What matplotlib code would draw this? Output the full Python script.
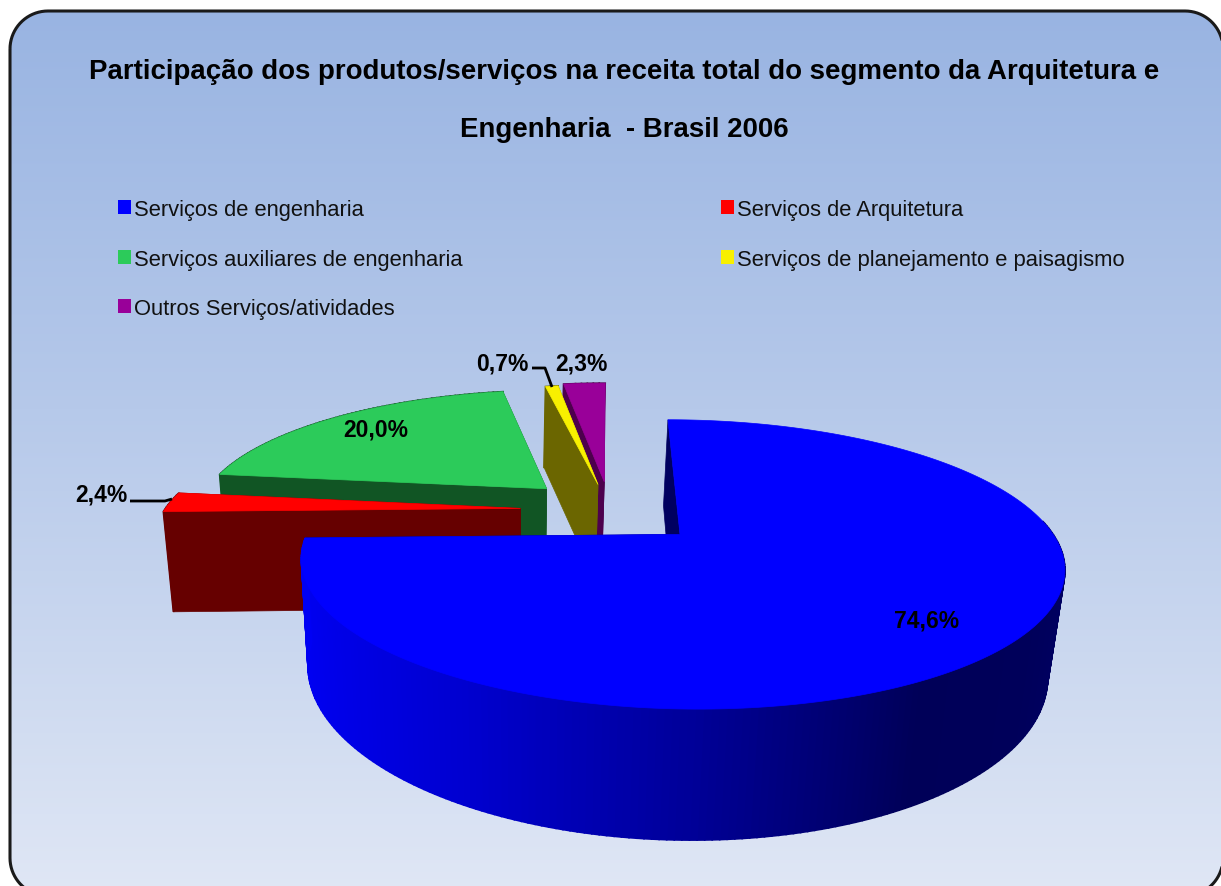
import numpy as np
import matplotlib
matplotlib.use("Agg")
import matplotlib.pyplot as plt
from matplotlib.patches import Polygon, Rectangle
from matplotlib.colors import to_rgb

#Data
names = ["Serviços de engenharia", "Serviços de Arquitetura", "Serviços auxiliares de engenharia",
         "Serviços de planejamento e paisagismo", "Outros Serviços/atividades"]
values = [74.6, 2.4, 20.0, 0.7, 2.3]
labels = ["74,6%", "2,4%", "20,0%", "0,7%", "2,3%"]
title_lines = ["Participação dos produtos/serviços na receita total do segmento da Arquitetura e",
               "Engenharia  - Brasil 2006"]

#Styles
top_colors = ["#0000ff", "#ff0000", "#2ccb5a", "#f8f000", "#990099"]
wall_colors = ["#000060", "#660000", "#115524", "#6b6600", "#4d004d"]
explode = [0.262, 0.25, 0.25, 0.21, 0.23]
radius = [1.0, 0.99, 0.975, 1.0, 1.0]

#Projection of the 3D pie into picture pixels
cx, cy = 610, 511
R, a, D = 359.5, 128.5, 100
k, m = 0.2, 0.03

def project(x, y, z):
    sy = 1 / (1 + k * y)
    s = 1 / (1 + k * y + m * z)
    return cx + R * x * s - 3 * z, cy + sy * (D * z - a * y)

fig = plt.figure(figsize=(12.21, 8.87), dpi=100)
ax = fig.add_axes([0, 0, 1, 1])

#Background panel with the gradient
def rounded_box(x0, y0, x1, y1, r):
    pts = []
    for px, py, start in [(x0 + r, y0 + r, 180), (x1 - r, y0 + r, 270), (x1 - r, y1 - r, 0), (x0 + r, y1 - r, 90)]:
        th = np.radians(np.linspace(start, start + 90, 20))
        pts += list(zip(px + r * np.cos(th), py + r * np.sin(th)))
    return pts

panel = Polygon(rounded_box(10, 12, 1223, 897, 38), closed=True, facecolor="none",
                edgecolor="#1a1a1a", linewidth=2.2, zorder=3)
ax.add_patch(panel)
stops = np.array([to_rgb("#99b4e2"), to_rgb("#b6c9ea"), to_rgb("#e0e7f5")])
t = np.linspace(0, 1, 400)
grad = np.stack([np.interp(t, [0, 0.45, 1], stops[:, i]) for i in range(3)], axis=1)[:, None, :]
im = ax.imshow(grad, extent=(10, 1223, 897, 12), aspect="auto", zorder=1)
im.set_clip_path(panel)
ax.set_xlim(0, 1221)
ax.set_ylim(887, 0)
ax.axis("off")

#Blue wall shading, by position across the pie
shade_x = [-1.0, -0.5, 0.0, 0.5, 0.8, 1.0]
shade_c = np.array([to_rgb(c) for c in ["#0000f4", "#0000d0", "#000098", "#000058", "#00005a", "#000062"]])

def shade(x):
    return tuple(np.interp(x, shade_x, shade_c[:, i]) for i in range(3))

#Slice angles, clockwise from 12 o'clock
edges = np.concatenate([[0], np.cumsum(values)]) / sum(values) * 2 * np.pi

def draw_slice(i):
    t1, t2 = edges[i], edges[i + 1]
    mid = (t1 + t2) / 2
    ox, oy = explode[i] * np.sin(mid), explode[i] * np.cos(mid)
    th = np.linspace(t1, t2, max(int((t2 - t1) * 60), 4))
    xs = ox + radius[i] * np.sin(th)
    ys = oy + radius[i] * np.cos(th)
    z = 10 + (4 - i if i else 9) * 2

    #radial faces
    for x, y in [(xs[0], ys[0]), (xs[-1], ys[-1])]:
        pts = [project(ox, oy, 0), project(x, y, 0), project(x, y, 1), project(ox, oy, 1)]
        ax.add_patch(Polygon(pts, facecolor=wall_colors[i], edgecolor=wall_colors[i], lw=0.5, zorder=z))
    #outer wall, front part only for the big slice
    for j in range(len(th) - 1):
        if i == 0 and np.cos(th[j]) > 0.1:
            continue
        c = shade(np.sin(th[j])) if i == 0 else wall_colors[i]
        pts = [project(xs[j], ys[j], 0), project(xs[j + 1], ys[j + 1], 0),
               project(xs[j + 1], ys[j + 1], 1), project(xs[j], ys[j], 1)]
        ax.add_patch(Polygon(pts, facecolor=c, edgecolor=c, lw=1.2, zorder=z))
    #top
    pts = [project(ox, oy, 0)] + [project(x, y, 0) for x, y in zip(xs, ys)]
    ax.add_patch(Polygon(pts, facecolor=top_colors[i], edgecolor=top_colors[i], lw=0.5, zorder=z + 1))

for i in range(len(values)):
    draw_slice(i)

#Title
for line, y in zip(title_lines, [72, 130]):
    ax.text(624, y, line, ha="center", va="center", fontsize=19.9, fontweight="bold",
            family="Liberation Sans", color="black", zorder=30)

#Legend
leg_x = [118, 721, 118, 721, 118]
leg_y = [208, 208, 258, 258, 307]
for name, c, x, y in zip(names, top_colors, leg_x, leg_y):
    ax.add_patch(Rectangle((x, y - 7), 13, 14, facecolor=c, edgecolor="none", zorder=30))
    ax.text(x + 16, y + 3, name, ha="left", va="center", fontsize=15.8, color="#111111",
            family="Liberation Sans", zorder=30)

#Data labels
label_x = [927, 101, 376, 502, 581]
label_y = [621, 495, 430, 364, 364]
for text, x, y in zip(labels, label_x, label_y):
    ax.text(x, y, text, ha="center", va="center", fontsize=16.5, color="black", fontweight="bold",
            family="Liberation Sans", zorder=30)

#Leader lines
ax.plot([130, 165, 172], [502, 502, 500], color="black", lw=2, zorder=31, solid_capstyle="butt")
ax.plot([532, 545, 552], [369, 369, 388], color="black", lw=2, zorder=31, solid_capstyle="butt")

fig.savefig("out.png", dpi=100)
